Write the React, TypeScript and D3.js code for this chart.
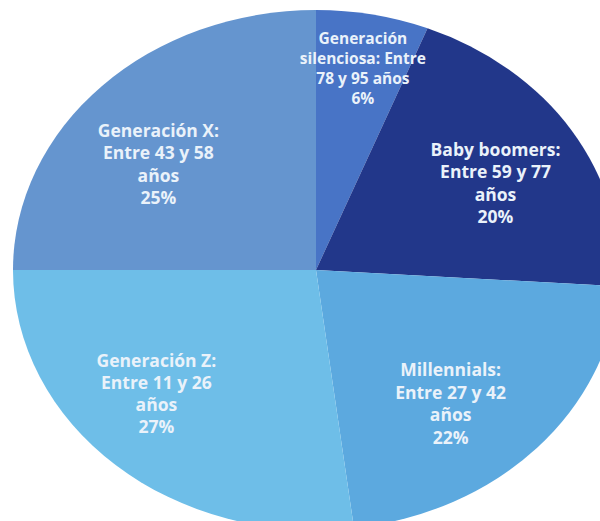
import React, { useEffect, useRef } from "react";
import * as d3 from "d3";

// ---- data ----
const categories = [
  "Generación silenciosa",
  "Baby boomers",
  "Millennials",
  "Generación Z",
  "Generación X",
];
const shares = [6, 20, 22, 27, 25];
const labelLines: string[][] = [
  ["Generación", "silenciosa: Entre", "78 y 95 años", "6%"],
  ["Baby boomers:", "Entre 59 y 77", "años", "20%"],
  ["Millennials:", "Entre 27 y 42", "años", "22%"],
  ["Generación Z:", "Entre 11 y 26", "años", "27%"],
  ["Generación X:", "Entre 43 y 58", "años", "25%"],
];

// ---- style / layout ----
const colors = ["#4874C6", "#22378A", "#5CA9DF", "#6EBEE8", "#6595CF"];
const labelRadius = [0.79, 0.68, 0.68, 0.71, 0.66];
const labelNudgeDeg = [0.5, 3, 6, 6.5, -7];
const labelFont = [15.5, 17.5, 17.5, 17.5, 17.5];
const labelLead = [20, 22.5, 22.5, 22, 22.5];

const W = 600;
const H = 521;
const CX = 316;
const CY = 270;
const RX = 303;
const RY = 260;

export default function App() {
  const ref = useRef<SVGSVGElement>(null);

  useEffect(() => {
    const svg = d3.select(ref.current);
    svg.selectAll("*").remove();

    const data = categories.map((c, i) => ({ name: c, value: shares[i], i }));
    const pie = d3
      .pie<any>()
      .sort(null)
      .value((d) => d.value)
      .startAngle(0)
      .endAngle(2 * Math.PI);
    const arcs = pie(data);
    const R = 100;
    const arc = d3.arc<any>().innerRadius(0).outerRadius(R);

    const g = svg
      .append("g")
      .attr("transform", `translate(${CX},${CY}) scale(${RX / R},${RY / R})`);
    g.selectAll("path")
      .data(arcs)
      .join("path")
      .attr("d", arc as any)
      .attr("fill", (d: any) => colors[d.data.i]);

    const lg = svg.append("g").attr("transform", `translate(${CX},${CY})`);
    arcs.forEach((a: any) => {
      const i = a.data.i;
      const mid = (a.startAngle + a.endAngle) / 2 + (labelNudgeDeg[i] * Math.PI) / 180;
      const x = Math.sin(mid) * RX * labelRadius[i];
      const y = -Math.cos(mid) * RY * labelRadius[i];
      const lines = labelLines[i];
      const fs = labelFont[i];
      const lead = labelLead[i];
      const y0 = y - ((lines.length - 1) * lead) / 2;
      const t = lg
        .append("text")
        .attr("text-anchor", "middle")
        .attr("font-family", "'Open Sans', sans-serif")
        .attr("font-weight", 700)
        .attr("font-size", fs)
        .attr("fill", "#EAF2FA");
      lines.forEach((ln, k) => {
        t.append("tspan")
          .attr("x", x)
          .attr("y", y0 + k * lead + fs * 0.36)
          .text(ln);
      });
    });
  }, []);

  return (
    <svg
      ref={ref}
      width={W}
      height={H}
      style={{ position: "absolute", left: 0, top: 0, background: "#ffffff" }}
    />
  );
}
